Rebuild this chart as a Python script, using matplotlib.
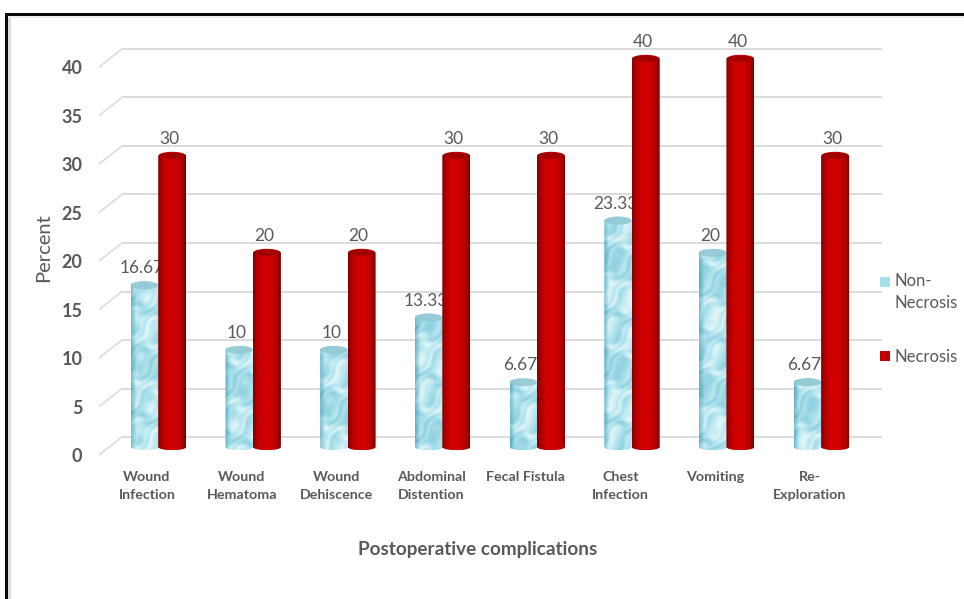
import numpy as np
import matplotlib
matplotlib.use("Agg")
import matplotlib.pyplot as plt
from matplotlib.patches import Ellipse, PathPatch, Rectangle
from matplotlib.path import Path
from matplotlib.colors import LinearSegmentedColormap
from matplotlib.transforms import ScaledTranslation

plt.rcParams['font.family'] = ['Lato', 'DejaVu Sans']

categories = ["Wound\nInfection", "Wound\nHematoma", "Wound\nDehiscence",
              "Abdominal\nDistention", "Fecal Fistula", "Chest\nInfection",
              "Vomiting", "Re-\nExploration"]
non_necrosis = [16.67, 10, 10, 13.33, 6.67, 23.33, 20, 6.67]
necrosis = [30, 20, 20, 30, 30, 40, 40, 30]
y_ticks = [0, 5, 10, 15, 20, 25, 30, 35, 40]

W, H = 964, 599
GRAY = "#595959"

fig = plt.figure(figsize=(W / 100, H / 100), dpi=100)

# axes placed in pixels: 94.7 px per category, 9.7 px per percent
left, right, top, bottom = 99, 882, 40, 470
ax = fig.add_axes([left / W, 1 - bottom / H, (right - left) / W, (bottom - top) / H])
PX_X = 94.7
PX_Y = 9.7
x0 = (left - 158) / PX_X
x1 = (right - 158) / PX_X
y0 = (447 - bottom) / PX_Y
y1 = (447 - top) / PX_Y

bar_w = 28 / PX_X
cap_h = 4.2 / PX_Y
cap_h_low = 3.2 / PX_Y


def cylinder_path(xc, val):
    # side walls with rounded top and bottom
    a = bar_w / 2
    t = np.linspace(0, np.pi, 30)
    xs = np.r_[xc - a * np.cos(t), xc + a * np.cos(t)]
    ys = np.r_[cap_h_low * -np.sin(t), val + cap_h * np.sin(t)]
    return Path(np.c_[xs, ys], closed=False)


def water_texture(nx, ny, phase):
    # rippled pale surface: warped sine waves give soft blobs with bright arcs
    u = np.arange(nx)[None, :] / 28.0 + phase * 0.37
    v = np.arange(ny)[:, None] / 28.0 + phase * 0.61
    warp = 1.3 * np.sin(5.1 * v + 2.0 * u) + 0.9 * np.sin(7.3 * u - 3.1 * v)
    blobs = np.sin(3.4 * v + 1.7 * u + warp) + 0.6 * np.sin(13 * v - 11 * u + 2 * warp)
    speckle = 0.25 * np.sin(41 * u + 23 * v) * np.sin(37 * v - 19 * u)
    w = blobs + speckle
    return (w - w.min()) / (w.max() - w.min())


red_cmap = LinearSegmentedColormap.from_list(
    "red_cyl", [(0, "#840000"), (0.14, "#b40000"), (0.32, "#cf0000"), (0.65, "#cf0000"),
                (0.9, "#a80000"), (1, "#700000")])
blue_cmap = LinearSegmentedColormap.from_list(
    "blue_cyl", [(0, "#8ccfde"), (0.45, "#aee2ec"), (0.8, "#cdeff4"), (1, "#e8f8fa")])

# back wall gridlines and the slanted floor ticks
back = 10 / PX_Y
depth = 18 / PX_Y
dx = 23 / PX_X
for v in y_ticks:
    ax.plot([x0 + dx, x1], [v + back, v + back], color="#dcdcdc", lw=1.4, zorder=1,
            solid_capstyle="butt")
    ax.plot([x0, x0 + dx], [v + back - depth, v + back], color="#dcdcdc", lw=1.2, zorder=1)

# non-necrosis cylinders
for i, val in enumerate(non_necrosis):
    xc = i - 0.14
    ny = max(int(val * PX_Y), 2)
    rgba = blue_cmap(water_texture(28, ny, i))
    # darker teal towards the left edge
    edge = np.clip(np.arange(28) / 5.0, 0, 1)
    rgba[..., 0] *= (0.62 + 0.38 * edge)[None, :]
    rgba[..., 1] *= (0.82 + 0.18 * edge)[None, :]
    rgba[..., 2] *= (0.86 + 0.14 * edge)[None, :]
    im = ax.imshow(rgba, extent=[xc - bar_w / 2, xc + bar_w / 2, -cap_h_low, val + cap_h],
                   aspect="auto", zorder=3, interpolation="bilinear", origin="lower")
    clip = PathPatch(cylinder_path(xc, val), transform=ax.transData)
    im.set_clip_path(clip)
    ax.add_patch(Ellipse((xc, val), bar_w * 0.96, cap_h * 1.9, fc="#93c9d4", ec="none",
                         alpha=0.9, zorder=3.1))
    ax.annotate(f"{val:g}", (xc, val), xytext=(-3, 17), textcoords="offset pixels",
                ha="center", va="center", fontsize=12.5, color=GRAY, zorder=4)

# necrosis cylinders, in front of the labels beside them
grad = np.linspace(0, 1, 64)[None, :]
for i, val in enumerate(necrosis):
    xc = i + 0.15
    im = ax.imshow(grad, extent=[xc - bar_w / 2, xc + bar_w / 2, -cap_h_low, val + cap_h],
                   cmap=red_cmap, aspect="auto", zorder=5, vmin=0, vmax=1, origin="lower")
    clip = PathPatch(cylinder_path(xc, val), transform=ax.transData)
    im.set_clip_path(clip)
    ax.add_patch(Ellipse((xc, val + 0.03), bar_w * 0.9, cap_h * 1.5, fc="#a20000", ec="none",
                         zorder=5.1))
    ax.annotate(f"{val:g}", (xc, val), xytext=(-3, 17), textcoords="offset pixels",
                ha="center", va="center", fontsize=12.5, color=GRAY, zorder=6)

ax.set_xlim(x0, x1)
ax.set_ylim(y0, y1)
ax.patch.set_alpha(0)
for s in ax.spines.values():
    s.set_visible(False)

ax.set_yticks(y_ticks)
ax.tick_params(axis="y", length=0, pad=12, labelsize=13, labelcolor=GRAY)
down = ScaledTranslation(0, -6 / 72, fig.dpi_scale_trans)
for lab in ax.get_yticklabels():
    lab.set_fontweight("bold")
    lab.set_transform(lab.get_transform() + down)

ax.set_xticks(range(len(categories)))
ax.set_xticklabels(categories, fontsize=10.3, fontweight="bold", color=GRAY, linespacing=1.55)
ax.tick_params(axis="x", length=0, pad=1)
for lab in ax.get_xticklabels():
    lab.set_transform(lab.get_transform() + ScaledTranslation(-0.11, 0, fig.dpi_scale_trans))

fig.text(44 / W, 1 - 248 / H, "Percent", rotation=90, ha="center", va="center",
         fontsize=14.5, color=GRAY)
fig.text(478 / W, 1 - 549 / H, "Postoperative complications", ha="center", va="center",
         fontsize=13.6, fontweight="bold", color=GRAY)

# legend
fig.add_artist(Rectangle((880 / W, 1 - 287 / H), 10 / W, 10 / H, fc="#a5e0ec", ec="none",
                         transform=fig.transFigure))
fig.add_artist(Rectangle((880 / W, 1 - 361 / H), 10 / W, 10 / H, fc="#c00000", ec="none",
                         transform=fig.transFigure))
fig.text(894 / W, 1 - 281 / H, "Non-", va="center", fontsize=12, color=GRAY)
fig.text(894 / W, 1 - 303 / H, "Necrosis", va="center", fontsize=12, color=GRAY)
fig.text(894 / W, 1 - 357 / H, "Necrosis", va="center", fontsize=12, color=GRAY)

# black outer frame with its soft gray inner edge, open to the right and bottom
fig.add_artist(Rectangle((5 / W, 1 - 16 / H), (W - 5) / W, 3 / H, fc="#0a0a0a", ec="none",
                         transform=fig.transFigure))
fig.add_artist(Rectangle((5 / W, 0), 3 / W, 1 - 13 / H, fc="#0a0a0a", ec="none",
                         transform=fig.transFigure))
fig.add_artist(Rectangle((8 / W, 0), 3 / W, 1 - 16 / H, fc="#dddddd", ec="none",
                         transform=fig.transFigure))
fig.add_artist(Rectangle((8 / W, 1 - 18 / H), (W - 8) / W, 2 / H, fc="#eeeeee", ec="none",
                         transform=fig.transFigure))

fig.savefig("out.png", dpi=100)
